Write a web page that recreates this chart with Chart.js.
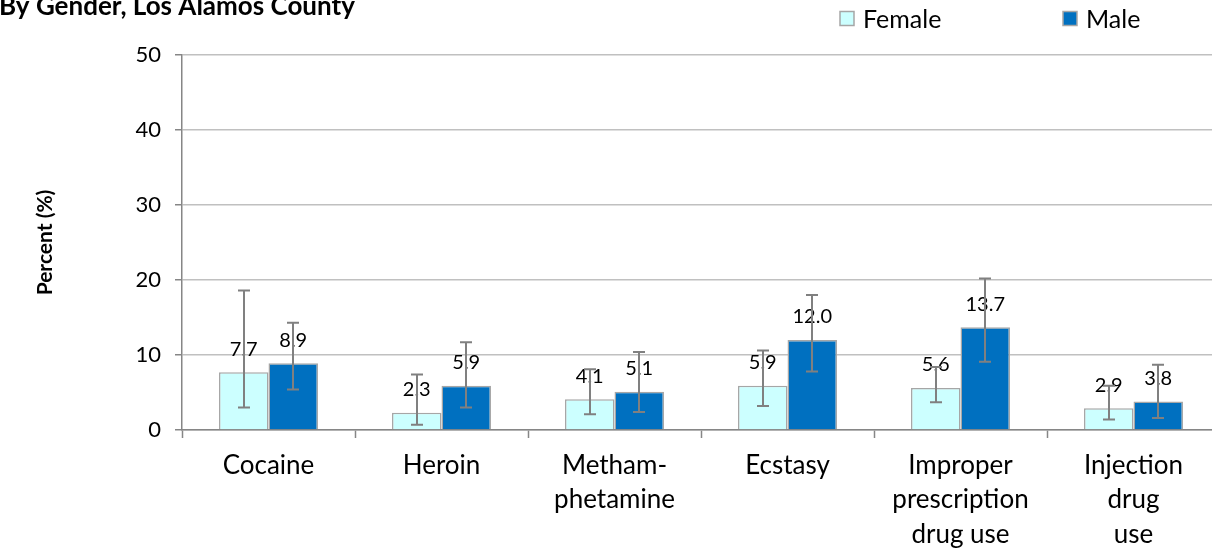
<!DOCTYPE html>
<html>
<head>
<meta charset="utf-8">
<title>Drug use by gender, Los Alamos County</title>
<script src="https://cdn.jsdelivr.net/npm/chart.js@4/dist/chart.umd.min.js"></script>
<style>
  html, body { margin: 0; padding: 0; background: #fff; overflow: hidden; }
  #wrap { width: 1222px; height: 550px; }
</style>
</head>
<body>
<div id="wrap"><canvas id="drugChart" width="1222" height="550"></canvas></div>
<script>
// Datos por categoría
const categories = [
    'Cocaine',
    'Heroin',
    ['Metham-', 'phetamine'],
    'Ecstasy',
    ['Improper', 'prescription', 'drug use'],
    ['Injection', 'drug', 'use']
];
const femaleValues = [7.7, 2.3, 4.1, 5.9, 5.6, 2.9];
const maleValues = [8.9, 5.9, 5.1, 12.0, 13.7, 3.8];

// Intervalos de confianza (límite inferior / superior)
const femaleLow = [3.0, 0.7, 2.1, 3.2, 3.7, 1.4];
const femaleHigh = [18.6, 7.4, 8.1, 10.6, 8.4, 5.9];
const maleLow = [5.4, 3.0, 2.4, 7.8, 9.1, 1.6];
const maleHigh = [14.3, 11.7, 10.4, 18.0, 20.2, 8.7];

const yTicks = [0, 10, 20, 30, 40, 50];

const FONT = 'Lato';

// Barras de error
const errorBarsPlugin = {
    id: 'errorBars',
    afterDatasetsDraw(chart) {
        const ctx = chart.ctx;
        const yScale = chart.scales.y;
        const ranges = [[femaleLow, femaleHigh], [maleLow, maleHigh]];
        ctx.save();
        ctx.strokeStyle = '#808080';
        ctx.lineWidth = 2;
        chart.data.datasets.forEach((ds, di) => {
            const meta = chart.getDatasetMeta(di);
            meta.data.forEach((bar, i) => {
                const yLo = yScale.getPixelForValue(ranges[di][0][i]);
                const yHi = yScale.getPixelForValue(ranges[di][1][i]);
                const x = Math.round(bar.x);
                ctx.beginPath();
                ctx.moveTo(x, yLo);
                ctx.lineTo(x, yHi);
                ctx.moveTo(x - 6, yLo);
                ctx.lineTo(x + 6, yLo);
                ctx.moveTo(x - 6, yHi);
                ctx.lineTo(x + 6, yHi);
                ctx.stroke();
            });
        });
        ctx.restore();
    }
};

// Etiquetas de valor sobre cada barra
const valueLabelsPlugin = {
    id: 'valueLabels',
    afterDatasetsDraw(chart) {
        const ctx = chart.ctx;
        ctx.save();
        ctx.fillStyle = '#000';
        ctx.font = '20px ' + FONT;
        ctx.textAlign = 'center';
        ctx.textBaseline = 'middle';
        chart.data.datasets.forEach((ds, di) => {
            const meta = chart.getDatasetMeta(di);
            meta.data.forEach((bar, i) => {
                ctx.fillText(ds.data[i].toFixed(1), bar.x, bar.y - 23);
            });
        });
        ctx.restore();
    }
};

// Título y leyenda
const headerPlugin = {
    id: 'header',
    afterDraw(chart) {
        const ctx = chart.ctx;
        ctx.save();
        ctx.fillStyle = '#000';
        ctx.font = 'bold 26px ' + FONT;
        ctx.textAlign = 'left';
        ctx.textBaseline = 'alphabetic';
        ctx.fillText('By Gender, Los Alamos County', -1, 15);

        const legendX = [840, 1063];
        ctx.font = '25px ' + FONT;
        ctx.textBaseline = 'middle';
        chart.data.datasets.forEach((ds, di) => {
            const x = legendX[di];
            ctx.fillStyle = ds.backgroundColor;
            ctx.fillRect(x, 11.5, 14, 14);
            ctx.strokeStyle = '#a6a6a6';
            ctx.lineWidth = 1.5;
            ctx.strokeRect(x, 11.5, 14, 14);
            ctx.fillStyle = '#000';
            ctx.fillText(ds.label, x + 23, 19.5);
        });
        ctx.restore();
    }
};

const ctx = document.getElementById('drugChart').getContext('2d');
new Chart(ctx, {
    type: 'bar',
    data: {
        labels: categories,
        datasets: [
            {
                label: 'Female',
                data: femaleValues,
                backgroundColor: '#ccffff',
                borderColor: '#a6a6a6',
                borderWidth: 1.5
            },
            {
                label: 'Male',
                data: maleValues,
                backgroundColor: '#0070c0',
                borderColor: '#a6a6a6',
                borderWidth: 1.5
            }
        ]
    },
    options: {
        responsive: false,
        animation: false,
        layout: {
            padding: { top: 55, right: 2, left: 0, bottom: 0 }
        },
        datasets: {
            bar: {
                categoryPercentage: 0.572,
                barPercentage: 1.0
            }
        },
        plugins: {
            legend: { display: false },
            title: { display: false },
            tooltip: { enabled: false }
        },
        scales: {
            x: {
                grid: {
                    offset: true,
                    drawOnChartArea: false,
                    tickLength: 8,
                    tickColor: '#868686',
                    tickWidth: 1.5
                },
                border: { color: '#868686', width: 1.5 },
                ticks: {
                    color: '#000',
                    font: { family: FONT, size: 26, lineHeight: 1.33 },
                    padding: 10,
                    maxRotation: 0,
                    autoSkip: false
                },
                afterFit(scale) {
                    scale.height = 120;
                }
            },
            y: {
                min: 0,
                max: 50,
                afterBuildTicks(scale) {
                    scale.ticks = yTicks.map(v => ({ value: v }));
                },
                grid: {
                    color: '#c0c0c0',
                    lineWidth: 1.5,
                    tickLength: 7,
                    tickColor: '#868686'
                },
                border: { color: '#868686', width: 1.5 },
                ticks: {
                    color: '#000',
                    font: { family: FONT, size: 22 },
                    padding: 14
                },
                title: {
                    display: true,
                    text: 'Percent (%)',
                    color: '#000',
                    font: { family: FONT, size: 21, weight: 'bold' },
                    padding: { top: 33 }
                },
                afterFit(scale) {
                    scale.width = 182;
                }
            }
        }
    },
    plugins: [valueLabelsPlugin, errorBarsPlugin, headerPlugin]
});
</script>
</body>
</html>
